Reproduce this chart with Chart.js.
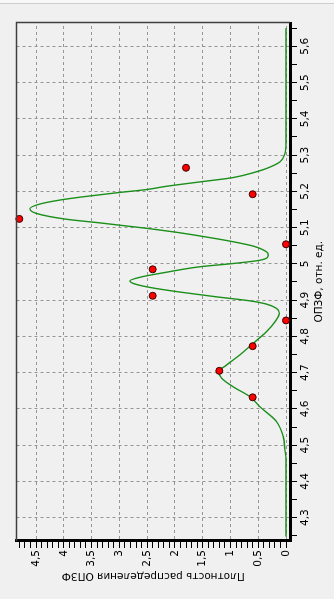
<!DOCTYPE html>
<html>
<head>
<meta charset="utf-8">
<script src="https://cdn.jsdelivr.net/npm/chart.js@4.4.1/dist/chart.umd.min.js"></script>
<style>
  html, body { margin: 0; padding: 0; }
  body { width: 334px; height: 599px; background: #f0f0f0; position: relative; overflow: hidden; }
  .topbar { position: absolute; left: 0; top: 0; width: 334px; height: 3px; background: #f8f8f8; border-bottom: 1px solid #cdcdcd; }
  .wrap { position: absolute; left: 0; top: 0; width: 599px; height: 334px;
          transform-origin: 0 0; transform: translate(0, 599px) rotate(-90deg); }
  canvas { display: block; }
</style>
</head>
<body>
<div class="topbar"></div>
<div class="wrap"><canvas id="chart" width="599" height="334"></canvas></div>
<script>
// measured points (ОПЗФ, плотность)
const pointsX = [4.632, 4.705, 4.773, 4.844, 4.912, 4.985, 5.054, 5.124, 5.192, 5.265];
const pointsY = [0.6, 1.2, 0.6, 0, 2.4, 2.4, 0, 4.8, 0.6, 1.8];

// density curve
const curveX = [4.248, 4.460, 4.487, 4.524, 4.565, 4.606, 4.634, 4.661, 4.685, 4.703,
                4.721, 4.749, 4.781, 4.813, 4.840, 4.864, 4.877, 4.889, 4.898, 4.909,
                4.921, 4.935, 4.946, 4.953, 4.963, 4.977, 4.992, 5.001, 5.010, 5.024,
                5.033, 5.049, 5.061, 5.077, 5.087, 5.098, 5.113, 5.123, 5.139, 5.152,
                5.165, 5.176, 5.185, 5.196, 5.205, 5.214, 5.226, 5.238, 5.254, 5.263,
                5.281, 5.304, 5.333, 5.650];
const curveY = [0, 0, 0.02, 0.05, 0.17, 0.47, 0.65, 0.95, 1.16, 1.21,
                1.07, 0.83, 0.59, 0.35, 0.20, 0.12, 0.17, 0.35, 0.65, 1.25,
                1.85, 2.45, 2.75, 2.81, 2.63, 2.15, 1.55, 0.95, 0.47, 0.32,
                0.35, 0.59, 0.95, 1.55, 1.97, 2.51, 3.35, 3.95, 4.49, 4.61,
                4.43, 4.07, 3.65, 3.05, 2.51, 2.15, 1.55, 0.95, 0.53, 0.35,
                0.11, 0.02, 0, 0];

const xTicks = [4.3, 4.4, 4.5, 4.6, 4.7, 4.8, 4.9, 5.0, 5.1, 5.2, 5.3, 5.4, 5.5, 5.6];
const xLabels = ['4,3', '4,4', '4,5', '4,6', '4,7', '4,8', '4,9', '5', '5,1', '5,2', '5,3', '5,4', '5,5', '5,6'];
const yTicks = [0, 0.5, 1, 1.5, 2, 2.5, 3, 3.5, 4, 4.5];
const yLabels = ['0', '0,5', '1', '1,5', '2', '2,5', '3', '3,5', '4', '4,5'];

const xTitle = 'ОПЗФ, отн. ед.';
const yTitle = 'Плотность распределения ОПЗФ';

// minor tick positions
const xMinor = [];
for (let k = 85; k <= 113; k++) xMinor.push(k / 20);
const yMinor = [];
for (let k = 0; k <= 48; k++) yMinor.push(k / 10);

function findIdx(list, v) {
  return list.findIndex(t => Math.abs(t - v) < 1e-9);
}

const font = { family: 'DejaVu Sans', size: 10.5 };

const framePlugin = {
  id: 'frame',
  afterDraw(chart) {
    const { ctx, chartArea: a } = chart;
    ctx.save();
    ctx.strokeStyle = '#404040';
    ctx.lineWidth = 1.5;
    ctx.beginPath();
    ctx.moveTo(a.left, a.top);
    ctx.lineTo(a.right, a.top);
    ctx.lineTo(a.right, a.bottom);
    ctx.stroke();
    ctx.restore();
  }
};

new Chart(document.getElementById('chart'), {
  type: 'line',
  data: {
    datasets: [
      {
        type: 'scatter',
        data: pointsX.map((x, i) => ({ x: x, y: pointsY[i] })),
        backgroundColor: '#ff0000',
        borderColor: '#3a0000',
        borderWidth: 1,
        pointRadius: 3.5,
        showLine: false,
        clip: false,
        order: 0
      },
      {
        data: curveX.map((x, i) => ({ x: x, y: curveY[i] })),
        borderColor: '#1a8f1a',
        borderWidth: 1.4,
        pointRadius: 0,
        fill: false,
        cubicInterpolationMode: 'monotone',
        order: 1
      }
    ]
  },
  options: {
    responsive: false,
    animation: false,
    devicePixelRatio: 1,
    layout: { padding: { top: 16.5, right: 22.5, left: 0, bottom: 0 } },
    plugins: { legend: { display: false }, tooltip: { enabled: false } },
    scales: {
      x: {
        type: 'linear',
        min: 4.2357,
        max: 5.6656,
        afterBuildTicks: s => { s.ticks = xMinor.map(v => ({ value: v })); },
        afterFit: s => { s.height = 44; },
        ticks: {
          autoSkip: false, maxRotation: 0, minRotation: 0,
          padding: 2, color: '#000', font: font,
          callback: v => { const i = findIdx(xTicks, v); return i < 0 ? '' : xLabels[i]; }
        },
        grid: {
          color: c => (c.tick && findIdx(xTicks, c.tick.value) >= 0) ? '#959595' : 'rgba(0,0,0,0)',
          tickColor: '#000',
          tickLength: 7,
          lineWidth: 1
        },
        border: { display: true, color: '#000', width: 3, dash: [3, 3] },
        title: { display: true, text: xTitle, color: '#000', font: font, padding: { top: 0, bottom: 8 } }
      },
      y: {
        type: 'linear',
        min: -0.072,
        max: 4.851,
        afterBuildTicks: s => { s.ticks = yMinor.map(v => ({ value: v })); },
        afterFit: s => { s.width = 58; },
        ticks: {
          autoSkip: false, padding: 2, color: '#000', font: font,
          callback: v => { const i = findIdx(yTicks, v); return i < 0 ? '' : yLabels[i]; }
        },
        grid: {
          color: c => (c.tick && findIdx(yTicks, c.tick.value) >= 0) ? '#959595' : 'rgba(0,0,0,0)',
          tickColor: '#000',
          tickLength: 7,
          lineWidth: 1
        },
        border: { display: true, color: '#000', width: 3, dash: [3, 3] },
        title: { display: true, text: yTitle, color: '#000', font: font, padding: { top: 16.5, bottom: 0 } }
      }
    }
  },
  plugins: [framePlugin]
});
</script>
</body>
</html>
